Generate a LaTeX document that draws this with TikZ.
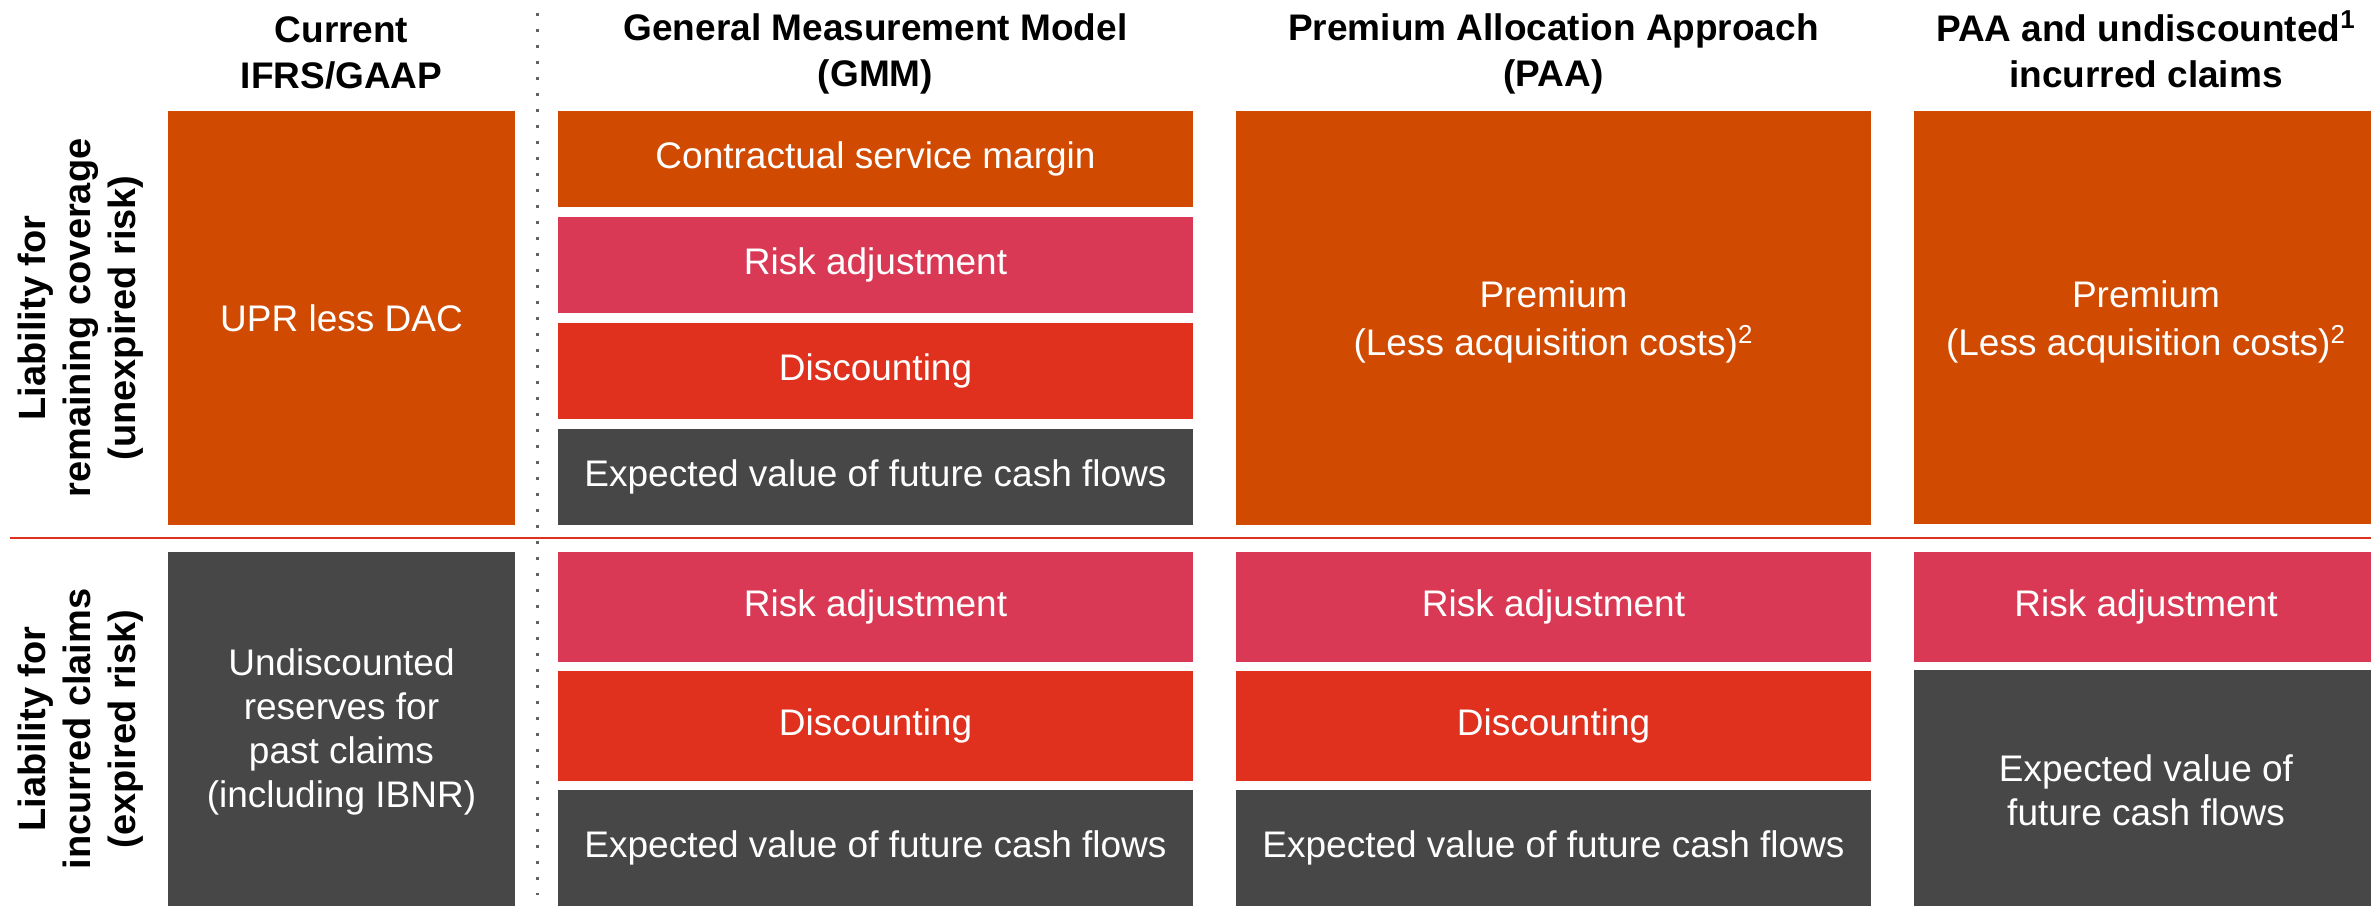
\documentclass[tikz,border=0pt]{standalone}
\usepackage{fontspec}
\setmainfont{Liberation Sans}
\usetikzlibrary{positioning}

\definecolor{pwcorange}{HTML}{D04A02}
\definecolor{pwcrose}{HTML}{D93954}
\definecolor{pwcred}{HTML}{E0301E}
\definecolor{pwcgrey}{HTML}{474747}

\tikzset{
  celltext/.style={text=white, align=center, inner sep=0pt, font=\fontsize{18.5}{22}\selectfont},
  coltitle/.style={align=center, inner sep=0pt, font=\fontsize{18.5}{23}\selectfont\bfseries},
  rowtitle/.style={align=center, inner sep=0pt, rotate=90, font=\fontsize{19}{22.5}\selectfont\bfseries},
}

\begin{document}
\begin{tikzpicture}[x=0.5pt,y=-0.5pt]
    \useasboundingbox (0,0) rectangle (2371,906);

    % Column titles
    \node[coltitle] (t-cur) at (341.5,53) {Current\\IFRS/GAAP};
    \node[coltitle] (t-gmm) at (875.5,54) {General Measurement Model\\(GMM)};
    \node[coltitle] (t-paa) at (1553.5,54) {Premium Allocation Approach\\(PAA)};
    \node[coltitle] (t-und) at (2146,49) {PAA and undiscounted\textsuperscript{1}\\incurred claims};

    % Row titles
    \node[rowtitle] (r-lrc) at (81,318) {Liability for\\remaining coverage\\(unexpired risk)};
    \node[rowtitle] (r-lic) at (81,729) {Liability for\\incurred claims\\(expired risk)};

    % Separators
    \draw[pwcred, line width=1.1pt] (10,538) -- (2371,538);
    \draw[pwcgrey!85, line width=1.5pt, dash pattern=on 1.5pt off 6.5pt] (537,13) -- (537,895);

    % Current IFRS/GAAP
    \fill[pwcorange] (168,111) rectangle (515,525);
    \node[celltext] (cur-lrc) at (341.5,318) {UPR less DAC};
    \fill[pwcgrey] (168,552) rectangle (515,906);
    \node[celltext] (cur-lic) at (341.5,732) {Undiscounted\\reserves for\\past claims\\(including IBNR)};

    % GMM
    \fill[pwcorange] (558,111) rectangle (1193,207);
    \node[celltext] (gmm-csm) at (875.5,159) {Contractual service margin};
    \fill[pwcrose] (558,217) rectangle (1193,313);
    \node[celltext] (gmm-ra) at (875.5,265) {Risk adjustment};
    \fill[pwcred] (558,323) rectangle (1193,419);
    \node[celltext] (gmm-dis) at (875.5,371) {Discounting};
    \fill[pwcgrey] (558,429) rectangle (1193,525);
    \node[celltext] (gmm-ev) at (875.5,477) {Expected value of future cash flows};

    \fill[pwcrose] (558,552) rectangle (1193,662);
    \node[celltext] (gmm-ra2) at (875.5,607) {Risk adjustment};
    \fill[pwcred] (558,671) rectangle (1193,781);
    \node[celltext] (gmm-dis2) at (875.5,726) {Discounting};
    \fill[pwcgrey] (558,790) rectangle (1193,906);
    \node[celltext] (gmm-ev2) at (875.5,848) {Expected value of future cash flows};

    % PAA
    \fill[pwcorange] (1236,111) rectangle (1871,525);
    \node[celltext, font=\fontsize{18.5}{24}\selectfont] (paa-prem) at (1553.5,322) {Premium\\(Less acquisition costs)\textsuperscript{2}};

    \fill[pwcrose] (1236,552) rectangle (1871,662);
    \node[celltext] (paa-ra) at (1553.5,607) {Risk adjustment};
    \fill[pwcred] (1236,671) rectangle (1871,781);
    \node[celltext] (paa-dis) at (1553.5,726) {Discounting};
    \fill[pwcgrey] (1236,790) rectangle (1871,906);
    \node[celltext] (paa-ev) at (1553.5,848) {Expected value of future cash flows};

    % PAA with undiscounted incurred claims
    \fill[pwcorange] (1914,111) rectangle (2371,524);
    \node[celltext, font=\fontsize{18.5}{24}\selectfont] (und-prem) at (2146,322) {Premium\\(Less acquisition costs)\textsuperscript{2}};

    \fill[pwcrose] (1914,552) rectangle (2371,662);
    \node[celltext] (und-ra) at (2146,607) {Risk adjustment};
    \fill[pwcgrey] (1914,670) rectangle (2371,906);
    \node[celltext] (und-ev) at (2146,790) {Expected value of\\future cash flows};
\end{tikzpicture}
\end{document}
